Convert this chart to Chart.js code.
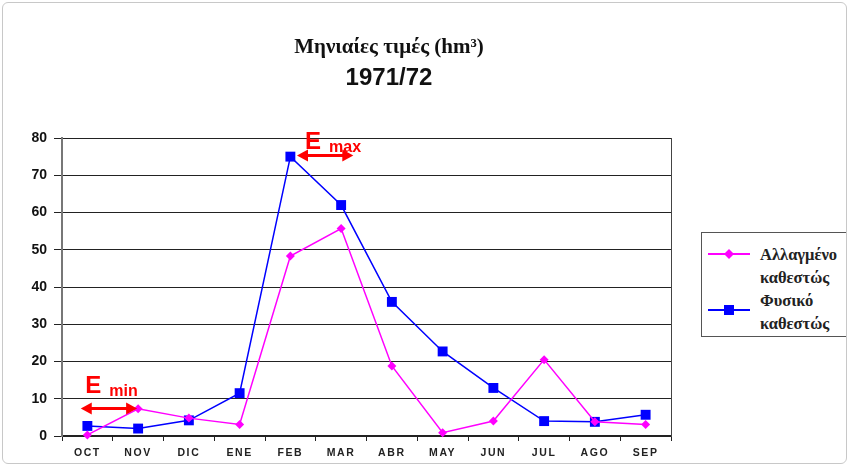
<!DOCTYPE html>
<html><head><meta charset="utf-8">
<script src="https://cdn.jsdelivr.net/npm/chart.js@4"></script>
<style>
html,body{margin:0;padding:0;background:#fff;}
#wrap{position:relative;width:849px;height:466px;overflow:hidden;background:#fff;}
#frame{position:absolute;left:2px;top:2px;right:2px;bottom:2px;border:1px solid #c8c8c8;border-radius:6px;pointer-events:none;}
#legend{position:absolute;left:701px;top:232px;width:144px;height:103px;border:1px solid #555;background:#fff;font:bold 16.5px "Liberation Serif","Times New Roman",serif;color:#222;}
.item{position:absolute;left:0;width:144px;}
.item svg{position:absolute;left:6px;}
.item .txt{position:absolute;left:58px;line-height:23px;white-space:nowrap;}
</style>
</head><body>
<div id="wrap">
<canvas id="c" width="849" height="466"></canvas>
<div id="legend"></div>
<div id="frame"></div>
</div>
<script>
// ---- data ----
const titleText = 'Μηνιαίες τιμές (hm³)';
const subtitleText = '1971/72';
const months = ['OCT','NOV','DIC','ENE','FEB','MAR','ABR','MAY','JUN','JUL','AGO','SEP'];
const alteredName = ['Αλλαγμένο','καθεστώς'];
const naturalName = ['Φυσικό','καθεστώς'];
const altered = [0.3, 7.3, 4.8, 3.1, 48.3, 55.7, 18.8, 0.9, 4.0, 20.5, 3.8, 3.1];
const natural = [2.7, 2.0, 4.2, 11.5, 75.0, 62.0, 36.0, 22.7, 12.9, 4.0, 3.8, 5.7];
const yTicks = [0,10,20,30,40,50,60,70,80];
// annotation arrows (E max / E min), in category-index and value units
const arrowNames = ['max','min'];
const arrowFrom  = [4.13, -0.13];
const arrowTo    = [5.24, 0.98];
const arrowLevel = [75.3, 7.4];
const labelX     = [4.29, -0.04];
const labelLevel = [77.0, 11.6];

const PINK = '#ff00ff', BLUE = '#0000ff', RED = '#ff0000';

const arrowsPlugin = {
  id: 'eArrows',
  afterDatasetsDraw(chart) {
    const {ctx, scales: {x, y}} = chart;
    ctx.save();
    ctx.fillStyle = RED; ctx.strokeStyle = RED;
    for (let i = 0; i < arrowNames.length; i++) {
      const x1 = x.getPixelForValue(arrowFrom[i]);
      const x2 = x.getPixelForValue(arrowTo[i]);
      const yy = y.getPixelForValue(arrowLevel[i]);
      const head = 11, hw = 6;
      ctx.lineWidth = 3;
      ctx.beginPath(); ctx.moveTo(x1 + head - 1, yy); ctx.lineTo(x2 - head + 1, yy); ctx.stroke();
      ctx.beginPath(); ctx.moveTo(x1, yy); ctx.lineTo(x1 + head, yy - hw); ctx.lineTo(x1 + head, yy + hw); ctx.closePath(); ctx.fill();
      ctx.beginPath(); ctx.moveTo(x2, yy); ctx.lineTo(x2 - head, yy - hw); ctx.lineTo(x2 - head, yy + hw); ctx.closePath(); ctx.fill();
      const tx = x.getPixelForValue(labelX[i]);
      const ty = y.getPixelForValue(labelLevel[i]);
      ctx.textAlign = 'left'; ctx.textBaseline = 'alphabetic';
      ctx.font = 'bold 24px "Liberation Sans", Arial, sans-serif';
      ctx.fillText('E', tx, ty);
      const w = ctx.measureText('E').width;
      ctx.font = 'bold 16px "Liberation Sans", Arial, sans-serif';
      ctx.fillText(arrowNames[i], tx + w + 8, ty + 3);
    }
    ctx.restore();
    // x tick labels (drawn after datasets, z:1) get letter spacing
    ctx.letterSpacing = '1.6px';
  },
  afterDraw(chart) { chart.ctx.letterSpacing = '0px'; }
};

new Chart(document.getElementById('c'), {
  type: 'line',
  data: {
    labels: months,
    datasets: [
      { label: alteredName.join(' '), data: altered, borderColor: PINK, backgroundColor: PINK,
        borderWidth: 1.5, pointStyle: 'rectRot', pointRadius: 4.5, pointBorderWidth: 0, tension: 0, clip: false },
      { label: naturalName.join(' '), data: natural, borderColor: BLUE, backgroundColor: BLUE,
        borderWidth: 1.5, pointStyle: 'rect', pointRadius: 7, pointBorderWidth: 0, tension: 0, clip: false }
    ]
  },
  options: {
    responsive: false, animation: false, events: [],
    layout: { padding: { left: 20, right: 91, top: 0, bottom: 0 } },
    plugins: {
      legend: { display: false }, tooltip: { enabled: false },
      title: { display: true, text: titleText, color: '#111',
        font: { family: '"Liberation Serif","Times New Roman",serif', size: 21, weight: 'bold' },
        padding: { top: 35.4, bottom: 0 } },
      subtitle: { display: true, text: subtitleText, color: '#111',
        font: { family: '"Liberation Sans",Arial,sans-serif', size: 24, weight: 'bold' },
        padding: { top: 3, bottom: 45.6 } }
    },
    scales: {
      x: {
        offset: true,
        grid: { offset: true, drawOnChartArea: false, tickLength: 5, color: '#222', lineWidth: 1 },
        border: { display: true, color: '#222', width: 1.5 },
        ticks: { z: 1, color: '#222', padding: 6, maxRotation: 0, autoSkip: false,
          font: { family: '"Liberation Sans",Arial,sans-serif', size: 10.5, weight: 'bold' } },
        afterFit(s) { s.height = 30; }
      },
      y: {
        min: 0, max: 80,
        afterBuildTicks(s) { s.ticks = yTicks.map(v => ({ value: v })); },
        ticks: { color: '#111', padding: 7,
          font: { family: '"Liberation Sans",Arial,sans-serif', size: 14, weight: 'bold' } },
        grid: { color: '#222', lineWidth: 1, tickLength: 8 },
        border: { color: '#777', width: 2 },
        afterFit(s) { s.width = 42; }
      },
      y2: {
        position: 'right', display: true,
        grid: { drawOnChartArea: false, drawTicks: false },
        ticks: { display: false },
        border: { color: '#444', width: 1 },
        afterFit(s) { s.width = 87; }
      }
    }
  },
  plugins: [arrowsPlugin]
});

// ---- HTML legend built from the dataset names ----
const legendItems = [
  { name: alteredName, color: PINK, marker: 'diamond', top: 10, markerY: 11 },
  { name: naturalName, color: BLUE, marker: 'square', top: 56, markerY: 21 }
];
const lg = document.getElementById('legend');
legendItems.forEach(it => {
  const d = document.createElement('div');
  d.className = 'item'; d.style.top = it.top + 'px';
  const mk = it.marker === 'diamond'
    ? `<polygon points="21,${it.markerY-5} 26,${it.markerY} 21,${it.markerY+5} 16,${it.markerY}" fill="${it.color}"/>`
    : `<rect x="16" y="${it.markerY-5}" width="10" height="10" fill="${it.color}"/>`;
  d.innerHTML = `<svg width="44" height="34" style="top:0"><line x1="0" y1="${it.markerY}" x2="42" y2="${it.markerY}" stroke="${it.color}" stroke-width="2"/>${mk}</svg>` +
    `<div class="txt" style="top:0">${it.name.join('<br>')}</div>`;
  lg.appendChild(d);
});
</script>
</body></html>
